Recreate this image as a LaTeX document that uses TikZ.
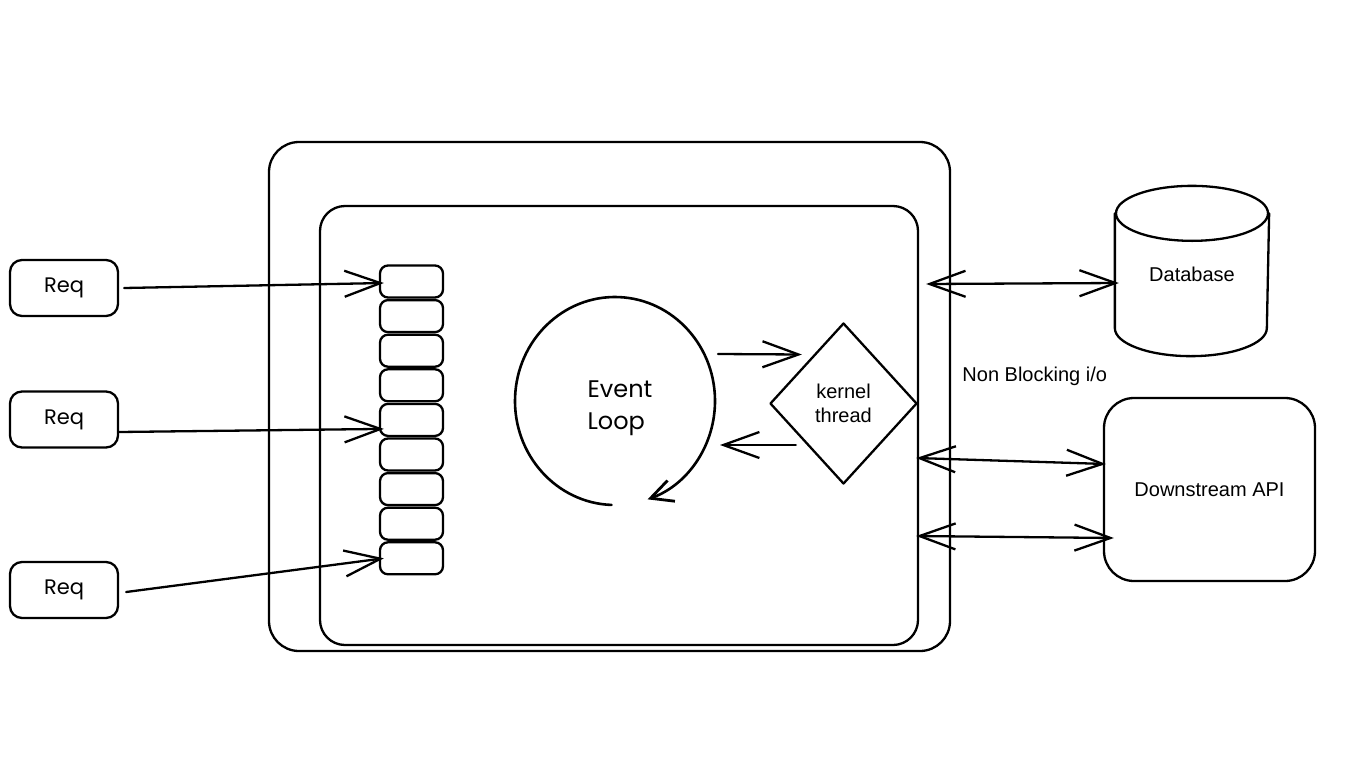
\documentclass[tikz,border=0pt]{standalone}
\usepackage{fontspec}
\setmainfont{Liberation Sans}
\newfontfamily\handfont{Poppins}
\usetikzlibrary{arrows.meta,shapes.geometric,calc}
\begin{document}
\begin{tikzpicture}[x=1pt,y=-1pt,
  line width=2.3pt, line join=round, line cap=round,
  every node/.style={font=\fontsize{20}{24}\selectfont},
  rbox/.style={draw, rounded corners=#1, inner sep=0pt},
  reqbox/.style={rbox=12, minimum width=108, minimum height=56, font=\handfont\fontsize{21}{24}\selectfont},
  cell/.style={rbox=8, minimum width=63, minimum height=32},
  tipb/.tip={Straight Barb[length=36pt,width=26pt,line width=2.3pt]},
  arr/.style={-tipb},
  darr/.style={tipb-tipb},
]
\useasboundingbox (0,0) rectangle (1366,782);

% containers
\node[rbox=30, minimum width=681, minimum height=509] (outer) at (609.5,396.5) {};
\node[rbox=25, minimum width=598, minimum height=439] (inner) at (619,425.5) {};

% requests
\node[reqbox] (r1) at (64,288) {Req};
\node[reqbox] (r2) at (64,419.5) {Req};
\node[reqbox] (r3) at (64,590) {Req};

% queue
\foreach \i in {1,...,9}
  \node[cell] (q\i) at (411.5,{281.5+(\i-1)*34.6}) {};

\draw[arr] ($(r1.east)+(5,0)$) -- ($(q1.west)+(5,1.5)$);
\draw[arr] ($(r2.east)+(0,12.5)$) -- ($(q5.west)+(5,9)$);
\draw[arr] ($(r3.east)+(7,2)$) -- ($(q9.west)+(5,0)$);

% event loop
\node[circle, minimum size=200, inner sep=0pt] (loop) at (615,401) {};
\node[align=left, font=\handfont\fontsize{24}{32}\selectfont] (looptext) at (620,408) {Event\\Loop};
\draw[line width=2.6pt, -{Straight Barb[length=22pt,width=22pt,line width=2.8pt]}]
  ($(loop.center)+(92:100 and 104)$) arc[start angle=92, end angle=431, x radius=100, y radius=104];

% kernel thread
\node[diamond, draw, minimum width=147, minimum height=161, inner sep=0pt, align=center] (kern) at (843.5,403.5) {kernel\\thread};

\draw[arr] ($(loop.center)+(103,-47)$) -- ($(kern.west)+(33,-49)$);
\draw[arr] ($(kern.west)+(27,41.5)$) -- ($(loop.center)+(105,44)$);

% database
\node[minimum width=152, minimum height=168, inner sep=0pt] (db) at (1192,271) {};
\node (dbtext) at (1192,274) {Database};
\draw ($(db.north)+(0,27.5)$) ellipse [x radius=76, y radius=27.5];
\draw ($(db.north west)+(0,27.5)$) -- ($(db.south west)+(0,-28)$)
  arc[start angle=180, end angle=0, x radius=76, y radius=28]
  -- ($(db.north east)+(0,27.5)$);

% downstream API
\node[rbox=30, minimum width=211, minimum height=183] (api) at (1209.5,489.5) {Downstream API};

% non blocking label
\node[anchor=west] (nb) at (958,376) {Non Blocking i/o};

% i/o arrows
\draw[darr] ($(inner.east)+(7,-141.5)$) -- ($(db.west)+(4,12)$);
\draw[darr] ($(inner.east)+(-3,32.5)$) -- ($(api.west)+(3,-25.5)$);
\draw[darr] ($(inner.east)+(-3,110.5)$) -- ($(api.west)+(11,48.5)$);
\end{tikzpicture}
\end{document}
